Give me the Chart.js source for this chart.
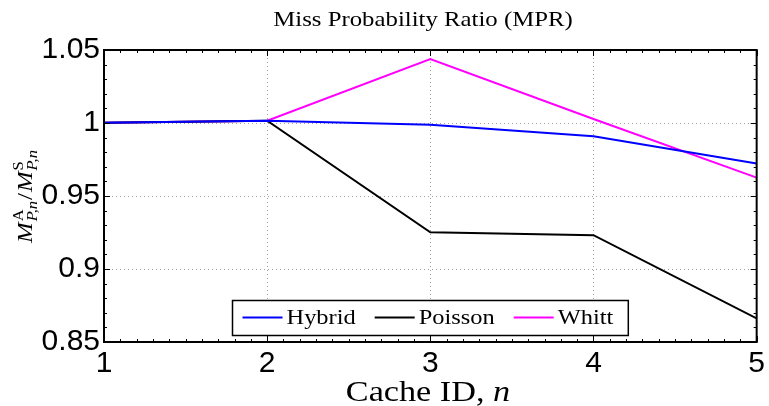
<!DOCTYPE html>
<html>
<head>
<meta charset="utf-8">
<script src="https://cdn.jsdelivr.net/npm/chart.js@4.4.0/dist/chart.umd.min.js"></script>
<style>
  html, body { margin: 0; padding: 0; background: #fff; }
  #wrap { width: 769px; height: 406px; }
</style>
</head>
<body>
<div id="wrap"><canvas id="mpr"></canvas></div>
<script>
// values
var cacheIds = [1, 2, 3, 4, 5];
var hybrid = [1.0002, 1.0016, 0.9988, 0.9910, 0.9722];
var poisson = [1.0002, 1.0016, 0.9251, 0.9232, 0.8662];
var whitt = [1.0002, 1.0016, 1.0438, 1.0027, 0.9626];
var seriesNames = ['Hybrid', 'Poisson', 'Whitt'];
var seriesColors = ['#0000ff', '#000000', '#ff00ff'];
var xTicks = [1, 2, 3, 4, 5];
var yTicks = [0.85, 0.9, 0.95, 1, 1.05];
var chartTitle = 'Miss Probability Ratio (MPR)';
var xTitle = 'Cache ID, ';
var xTitleVar = 'n';

var SERIF = '"Liberation Serif", "DejaVu Serif", serif';
var SANS = '"Liberation Sans", Arial, sans-serif';
var WIDEN = 1.18;   // Computer Modern is wider than Times

function pts(values) {
    return cacheIds.map((c, i) => ({x: c, y: values[i]}));
}

function seg(ctx, x1, y1, x2, y2) {
    ctx.beginPath();
    ctx.moveTo(x1, y1);
    ctx.lineTo(x2, y2);
    ctx.stroke();
}

// draws text stretched horizontally, returns drawn width
function wideText(ctx, text, x, y, sx) {
    const w = ctx.measureText(text).width * sx;
    ctx.save();
    ctx.translate(x, y);
    ctx.scale(sx, 1);
    ctx.textAlign = 'left';
    ctx.fillText(text, 0, 0);
    ctx.restore();
    return w;
}

var framePlugin = {
    id: 'frame',
    beforeDatasetsDraw(chart) {
        const ctx = chart.ctx, a = chart.chartArea;
        const x = chart.scales.x, y = chart.scales.y;
        ctx.save();
        ctx.strokeStyle = '#a0a0a0';
        ctx.lineWidth = 1;
        ctx.setLineDash([1, 3]);
        xTicks.slice(1, -1).forEach(v => {
            const px = Math.round(x.getPixelForValue(v)) + 0.5;
            seg(ctx, px, a.top, px, a.bottom);
        });
        yTicks.slice(1, -1).forEach(v => {
            const py = Math.round(y.getPixelForValue(v)) + 0.5;
            seg(ctx, a.left, py, a.right, py);
        });
        ctx.restore();
    },
    afterDatasetsDraw(chart) {
        const ctx = chart.ctx, a = chart.chartArea;
        const x = chart.scales.x, y = chart.scales.y;
        ctx.save();
        ctx.strokeStyle = '#000';
        ctx.lineWidth = 1;
        // minor + major ticks, inward on all four sides
        for (let i = 10; i <= 50; i++) {
            const px = Math.round(x.getPixelForValue(i / 10)) + 0.5;
            const len = i % 10 === 0 ? 6 : 3;
            seg(ctx, px, a.bottom, px, a.bottom - len);
            seg(ctx, px, a.top, px, a.top + len);
        }
        for (let i = 85; i <= 105; i++) {
            const py = Math.round(y.getPixelForValue(i / 100)) + 0.5;
            const len = i % 5 === 0 ? 6 : 3;
            seg(ctx, a.left, py, a.left + len, py);
            seg(ctx, a.right, py, a.right - len, py);
        }
        ctx.lineWidth = 2;
        ctx.strokeRect(a.left, a.top, a.right - a.left, a.bottom - a.top);
        ctx.restore();
    },
    afterDraw(chart) {
        const ctx = chart.ctx, a = chart.chartArea;
        const cx = (a.left + a.right) / 2;
        ctx.save();
        ctx.fillStyle = '#000';
        ctx.textBaseline = 'alphabetic';

        // title
        ctx.font = '21px ' + SERIF;
        let tw = ctx.measureText(chartTitle).width * WIDEN;
        wideText(ctx, chartTitle, 423 - tw / 2, 26, WIDEN);

        // x axis title
        ctx.font = '29px ' + SERIF;
        const w1 = ctx.measureText(xTitle).width * WIDEN;
        ctx.font = 'italic 29px ' + SERIF;
        const w2 = ctx.measureText(xTitleVar).width * WIDEN;
        let sx = 428 - (w1 + w2) / 2;
        ctx.font = '29px ' + SERIF;
        wideText(ctx, xTitle, sx, 401, WIDEN);
        ctx.font = 'italic 29px ' + SERIF;
        wideText(ctx, xTitleVar, sx + w1, 401, WIDEN);

        // y axis title: M^A_{P,n} / M^S_{P,n}
        const parts = [
            ['italic 21px ' + SERIF, 'M', 0],
            ['14px ' + SERIF, 'A', -9, 'P,n', 5],
            ['21px ' + SERIF, '/', 0],
            ['italic 21px ' + SERIF, 'M', 0],
            ['14px ' + SERIF, 'S', -9, 'P,n', 5]
        ];
        let total = 0;
        const widths = parts.map(p => {
            ctx.font = p[0];
            let w = ctx.measureText(p[1]).width;
            if (p[3]) {
                ctx.font = 'italic 14px ' + SERIF;
                w = Math.max(w, ctx.measureText(p[3]).width);
            }
            w *= WIDEN;
            total += w + 1;
            return w;
        });
        ctx.translate(32, 196);
        ctx.rotate(-Math.PI / 2);
        let px = -total / 2;
        parts.forEach((p, i) => {
            ctx.font = p[0];
            wideText(ctx, p[1], px, p[2], WIDEN);
            if (p[3]) {
                ctx.font = 'italic 14px ' + SERIF;
                wideText(ctx, p[3], px, p[4], WIDEN);
            }
            px += widths[i] + 1;
        });
        ctx.setTransform(1, 0, 0, 1, 0, 0);

        // legend box inside the plot, bottom centre
        const LW = 1.11;
        ctx.font = '22px ' + SERIF;
        const lineLen = 40, padL = 10, padR = 15, gapText = 4, gapItem = 19;
        const nw = seriesNames.map(n => ctx.measureText(n).width * LW);
        let boxW = padL + padR;
        nw.forEach((w, i) => { boxW += lineLen + gapText + w + (i < nw.length - 1 ? gapItem : 0); });
        const boxH = 35;
        const bx = Math.round(cx - boxW / 2) + 0.5;
        const by = Math.round(a.bottom - 7 - boxH) + 0.5;
        ctx.fillStyle = '#fff';
        ctx.fillRect(bx, by, boxW, boxH);
        ctx.strokeStyle = '#000';
        ctx.lineWidth = 1.5;
        ctx.strokeRect(bx, by, boxW, boxH);
        let lx = bx + padL;
        const ly = by + 17;
        seriesNames.forEach((n, i) => {
            ctx.strokeStyle = seriesColors[i];
            ctx.lineWidth = 2;
            seg(ctx, lx, ly, lx + lineLen, ly);
            lx += lineLen + gapText;
            ctx.fillStyle = '#000';
            wideText(ctx, n, lx, by + 23.5, LW);
            lx += nw[i] + gapItem;
        });
        ctx.restore();
    }
};

var seriesValues = [hybrid, poisson, whitt];

new Chart(document.getElementById('mpr'), {
    type: 'line',
    data: {
        datasets: seriesNames.map((name, i) => ({
            label: name,
            data: pts(seriesValues[i]),
            borderColor: seriesColors[i],
            backgroundColor: seriesColors[i],
            borderWidth: 2,
            pointRadius: 0,
            tension: 0,
            fill: false
        }))
    },
    options: {
        responsive: true,
        maintainAspectRatio: false,
        animation: false,
        layout: { padding: { top: 50, right: 9, left: 0, bottom: 0 } },
        plugins: {
            legend: { display: false },
            tooltip: { enabled: false },
            title: { display: false }
        },
        scales: {
            x: {
                type: 'linear',
                min: 1,
                max: 5,
                grid: { display: false, drawTicks: false },
                border: { display: false },
                afterBuildTicks: s => { s.ticks = xTicks.map(v => ({value: v})); },
                afterFit: s => { s.height = 64; },
                ticks: {
                    padding: 4,
                    color: '#000',
                    maxRotation: 0,
                    font: { family: SANS, size: 30 },
                    callback: v => String(v)
                }
            },
            y: {
                min: 0.85,
                max: 1.05,
                grid: { display: false, drawTicks: false },
                border: { display: false },
                afterBuildTicks: s => { s.ticks = yTicks.map(v => ({value: v})); },
                afterFit: s => { s.width = 104; },
                ticks: {
                    padding: 4,
                    color: '#000',
                    font: { family: SANS, size: 30 },
                    callback: v => String(v)
                }
            }
        }
    },
    plugins: [framePlugin]
});
</script>
</body>
</html>
